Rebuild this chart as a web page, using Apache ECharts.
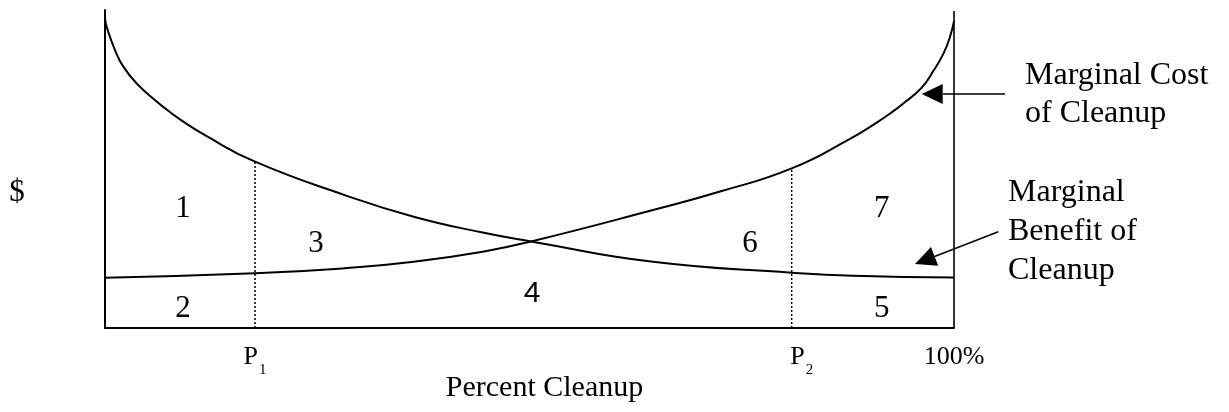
<!DOCTYPE html>
<html>
<head>
<meta charset="utf-8">
<script src="https://cdn.jsdelivr.net/npm/echarts@6/dist/echarts.min.js"></script>
<style>
  html, body { margin: 0; padding: 0; background: #fff; }
  #main { width: 1229px; height: 412px; }
</style>
</head>
<body>
<div id="main"></div>
<script>
// x = percent cleanup (0..100), y = $ (0..100, arbitrary units)
var mbX = [0, 0.2, 1.18, 2.16, 3.73, 6.09, 7.11, 8.83, 11.98, 17.67, 28.23, 36.36, 44.49, 50.18, 64.55, 80.88, 88.1, 100];
var mbY = [97.5, 94.7, 87.4, 82.2, 76.9, 71.2, 69.0, 65.6, 60.3, 52.3, 41.8, 35.0, 30.0, 27.2, 20.8, 17.4, 16.4, 15.9];

var mcX = [0, 17.67, 28.23, 36.36, 44.49, 50.18, 64.55, 72.44, 80.88, 87.75, 90.89, 92.85, 94.03, 96.2, 97.56, 98.74, 99.53, 100];
var mcY = [15.8, 17.2, 18.8, 20.8, 24.0, 27.2, 37.1, 42.9, 50.2, 59.5, 64.6, 68.2, 70.6, 75.6, 80.8, 86.2, 91.6, 96.5];

var p1 = 17.67;
var p2 = 80.88;
var tickValues = [p1, p2, 100];
var tickLabels = ['{p|P}{sub|1}', '{gap|}{p|P}{sub|2}', '{p|100%}'];

// area numbers and where they sit
var regionNames = ['1', '2', '3', '4', '5', '6', '7'];
var regionX = [9.19, 9.19, 24.85, 50.3, 91.5, 75.97, 91.5];
var regionY = [37.4, 5.97, 26.4, 10.7, 5.97, 26.4, 37.4];

var serif = 'Liberation Serif';
var sans = 'Liberation Sans';

function zip(xs, ys) {
  return xs.map(function (x, i) { return [x, ys[i]]; });
}

function arrow(x1, y1, x2, y2) {
  // line from (x1,y1) with a filled head at (x2,y2)
  var dx = x2 - x1, dy = y2 - y1;
  var len = Math.sqrt(dx * dx + dy * dy);
  var ux = dx / len, uy = dy / len;
  var bx = x2 - ux * 21, by = y2 - uy * 21;
  var px = -uy * 10, py = ux * 10;
  return [
    { type: 'line', shape: { x1: x1, y1: y1, x2: bx, y2: by }, style: { stroke: '#000', lineWidth: 1.6 } },
    { type: 'polygon', shape: { points: [[x2, y2], [bx + px, by + py], [bx - px, by - py]] }, style: { fill: '#000' } }
  ];
}

function textStyle(text, size, lh) {
  return {
    text: text, fill: '#000', font: size + 'px ' + serif,
    align: 'left', verticalAlign: 'middle', lineHeight: lh
  };
}

var chart = echarts.init(document.getElementById('main'), null, { renderer: 'canvas' });

var lineBlack = { color: '#000', width: 2 };

var option = {
  animation: false,
  backgroundColor: '#fff',
  grid: { left: 105, right: 275, top: 10, bottom: 84, outerBoundsMode: 'none' },
  xAxis: {
    type: 'value',
    min: 0,
    max: 100,
    axisLine: { lineStyle: lineBlack },
    axisTick: { show: false },
    splitLine: { show: false },
    axisLabel: {
      customValues: tickValues,
      margin: 16,
      color: '#000',
      fontFamily: serif,
      fontSize: 26,
      formatter: function (v) {
        var best = 0;
        tickValues.forEach(function (t, i) {
          if (Math.abs(t - v) < Math.abs(tickValues[best] - v)) best = i;
        });
        return tickLabels[best];
      },
      rich: {
        p: { fontFamily: serif, fontSize: 26, lineHeight: 30, verticalAlign: 'top', color: '#000' },
        sub: { fontFamily: serif, fontSize: 15, lineHeight: 15, padding: [19, 0, 0, 1], verticalAlign: 'top', color: '#000' },
        gap: { width: 20 }
      }
    },
    name: '{t|Percent Cleanup}',
    nameLocation: 'middle',
    nameGap: 45,
    nameMoveOverlap: false,
    nameTextStyle: {
      padding: [0, 0, 0, 30],
      rich: { t: { fontFamily: serif, fontSize: 30, color: '#000' } }
    }
  },
  yAxis: {
    type: 'value',
    min: 0,
    max: 100,
    axisLine: { show: true, lineStyle: lineBlack },
    axisTick: { show: false },
    axisLabel: { show: false },
    splitLine: { show: false }
  },
  series: [
    {
      name: 'Marginal Benefit of Cleanup',
      type: 'line',
      data: zip(mbX, mbY),
      smooth: 0.5,
      showSymbol: false,
      lineStyle: lineBlack
    },
    {
      name: 'Marginal Cost of Cleanup',
      type: 'line',
      data: zip(mcX, mcY),
      smooth: 0.5,
      showSymbol: false,
      lineStyle: lineBlack
    },
    {
      name: 'P1',
      type: 'line',
      data: [[p1, 0], [p1, mbY[mbX.indexOf(p1)]]],
      showSymbol: false,
      lineStyle: { color: '#000', width: 1.5, type: [2, 2] }
    },
    {
      name: 'P2',
      type: 'line',
      data: [[p2, 0], [p2, mcY[mcX.indexOf(p2)]]],
      showSymbol: false,
      lineStyle: { color: '#000', width: 1.5, type: [2, 2] }
    },
    {
      name: '100%',
      type: 'line',
      data: [[100, 0], [100, 99.7]],
      showSymbol: false,
      lineStyle: { color: '#000', width: 1.6 }
    },
    {
      name: 'areas',
      type: 'scatter',
      symbolSize: 0,
      itemStyle: { opacity: 1 },
      data: regionNames.map(function (n, i) {
        return {
          name: n,
          value: [regionX[i], regionY[i]],
          label: { formatter: n === '4' ? '{s|{b}}' : '{r|{b}}' }
        };
      }),
      label: {
        show: true,
        position: 'inside',
        opacity: 1,
        color: '#000',
        textBorderWidth: 0,
        rich: {
          r: { fontFamily: serif, fontSize: 31, color: '#000', opacity: 1 },
          s: { fontFamily: sans, fontSize: 30, color: '#000', opacity: 1 }
        }
      }
    }
  ],
  graphic: [
    { type: 'text', x: 17, y: 193, style: Object.assign(textStyle('$', 31, 36), { align: 'center' }) },
    { type: 'text', x: 1025, y: 95, style: textStyle('Marginal Cost\nof Cleanup', 32, 38) },
    { type: 'text', x: 1008, y: 232, style: textStyle('Marginal\nBenefit of\nCleanup', 32, 39) }
  ].concat(arrow(1005, 94, 921.7, 94)).concat(arrow(998.3, 231.7, 915, 264))
};

chart.setOption(option);
</script>
</body>
</html>
